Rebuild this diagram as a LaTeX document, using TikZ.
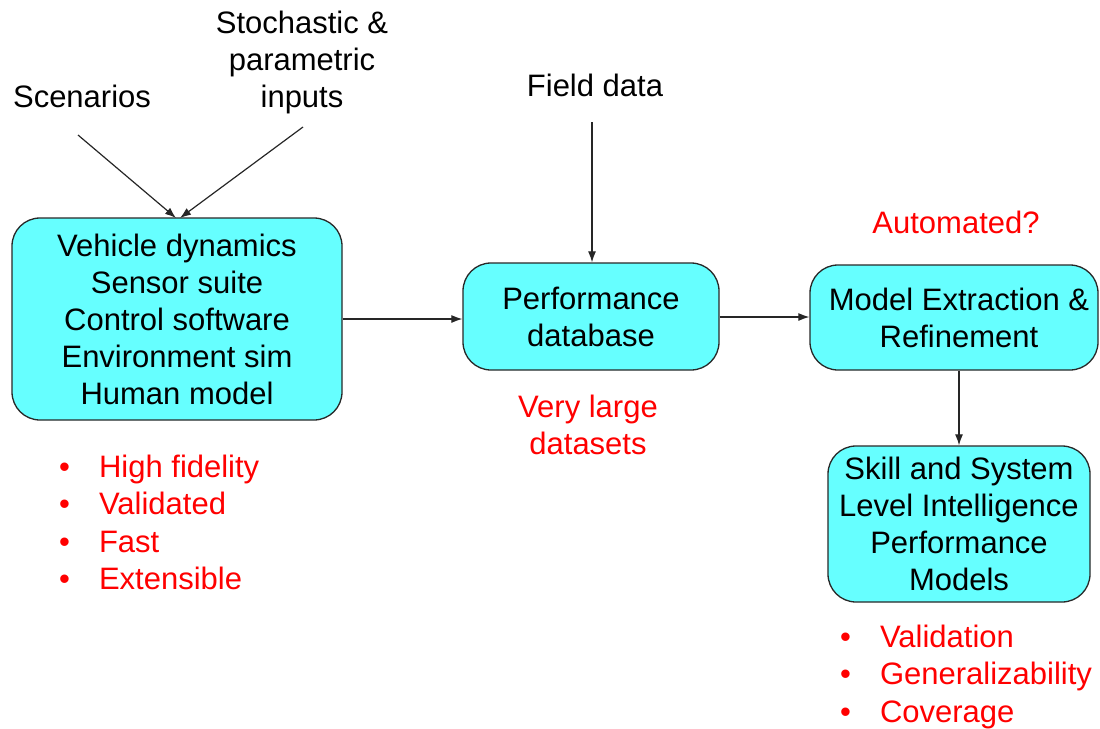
\documentclass[tikz,border=0pt]{standalone}
\usepackage{fontspec}
\setmainfont{Liberation Sans}
\usetikzlibrary{arrows.meta}
\definecolor{boxcyan}{RGB}{102,255,255}
\definecolor{boxline}{RGB}{40,40,40}
\tikzset{
  box/.style={draw=boxline, line width=1.3pt, fill=boxcyan, rounded corners=28pt, align=center, inner sep=0pt,
    font=\fontsize{31}{37}\selectfont},
  lbl/.style={align=center, inner sep=0pt, font=\fontsize{31}{37}\selectfont},
  redlbl/.style={lbl, text=red},
  bul/.style={anchor=west, inner sep=0pt, text=red, text height=23pt, text depth=7pt, font=\fontsize{31}{37}\selectfont},
  conn/.style={line width=1.2pt, draw=black!85, -{Latex[length=11pt,width=8pt]}}
}
\begin{document}
\begin{tikzpicture}[x=1pt,y=-1pt]
\useasboundingbox (0,0) rectangle (1100,728);
% boxes
\node[box, minimum width=330pt, minimum height=202pt] (sim) at (177,319)
  {Vehicle dynamics\\Sensor suite\\Control software\\Environment sim\\Human model};
\node[box, minimum width=256pt, minimum height=107pt] (db) at (591,316.5)
  {Performance\\database};
\node[box, minimum width=288pt, minimum height=105pt] (mx) at (954,317.5)
  {\hspace{10pt}Model Extraction \&\\\hspace{10pt}Refinement};
\node[box, minimum width=262pt, minimum height=156pt] (sk) at (959,524)
  {Skill and System\\Level Intelligence\\Performance\\Models};
% labels
\node[lbl] (scen) at (82,96) {Scenarios};
\node[lbl] (stoch) at (302,62) {Stochastic \&\\parametric\\inputs};
\node[lbl] (field) at (595,85) {Field data};
\node[redlbl] (auto) at (956,222) {Automated?};
\node[redlbl] (vl) at (588,425) {Very large\\datasets};
% bullets left
\node[bul] (l1) at (59,469) {•\hspace{29pt}High fidelity};
\node[bul] (l2) at (59,506) {•\hspace{29pt}Validated};
\node[bul] (l3) at (59,544) {•\hspace{29pt}Fast};
\node[bul] (l4) at (59,581) {•\hspace{29pt}Extensible};
% bullets right
\node[bul] (r1) at (840,639) {•\hspace{29pt}Validation};
\node[bul] (r2) at (840,676) {•\hspace{29pt}Generalizability};
\node[bul] (r3) at (840,714) {•\hspace{29pt}Coverage};
% connector ends
\coordinate (scenS) at (78,135);
\coordinate (stochS) at (303,127);
\coordinate (fieldS) at (592,122);
\coordinate (simT1) at (176,218);
\coordinate (simT2) at (180,218);
% connectors
\draw[conn] (scenS) -- (simT1);
\draw[conn] (stochS) -- (simT2);
\draw[conn] (fieldS) -- (fieldS |- db.north);
\draw[conn] (sim.east |- 0,319) -- (db.west |- 0,319);
\draw[conn] (db.east |- 0,317) -- (mx.west |- 0,317);
\draw[conn] (mx.south -| 959,0) -- (sk.north -| 959,0);
\end{tikzpicture}
\end{document}
